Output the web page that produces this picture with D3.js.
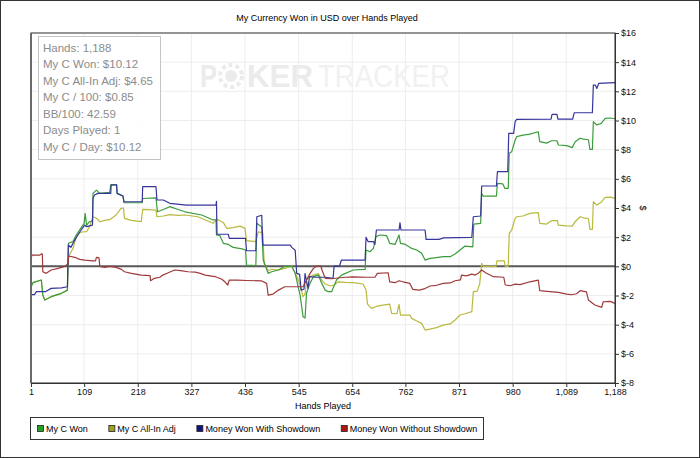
<!DOCTYPE html>
<html>
<head>
<meta charset="utf-8">
<title>My Currency Won in USD over Hands Played</title>
<script src="https://d3js.org/d3.v7.min.js"></script>
<style>
  body { margin: 0; background: #fff; }
  svg text { font-family: "Liberation Sans", Arial, sans-serif; }
</style>
</head>
<body>
<div id="chart"></div>
<script>
var handTicks = [1, 109, 218, 327, 436, 545, 654, 762, 871, 980, 1089, 1188];
var dollarTicks = [-8, -6, -4, -2, 0, 2, 4, 6, 8, 10, 12, 14, 16];
var seriesNames = ["My C Won", "My C All-In Adj", "Money Won With Showdown", "Money Won Without Showdown"];
var statLines = ["Hands: 1,188", "My C Won: $10.12", "My C All-In Adj: $4.65", "My C / 100: $0.85",
                 "BB/100: 42.59", "Days Played: 1", "My C / Day: $10.12"];

// [hand, dollars]
var myCWon = [[1,-1.40],[5,-1.12],[22,-0.94],[25,-1.97],[29,-2.31],[42,-2.08],[63,-1.85],[75,-1.63],
  [77,1.58],[86,1.69],[93,2.15],[102,2.6],[109,2.95],[111,3.63],[114,2.83],[120,3.06],[126,3.1],
  [127,5.0],[134,5.23],[141,5.0],[161,5.07],[163,5.58],[175,5.58],[176,5.0],[188,4.82],[190,4.36],
  [227,4.36],[228,4.65],[255,4.7],[258,3.74],[270,3.9],[283,4.09],[300,3.9],[314,3.74],[348,3.52],
  [371,3.18],[377,3.18],[378,2.15],[385,2.1],[392,1.58],[402,1.5],[412,1.3],[430,1.2],[437,1.12],
  [439,0.09],[458,0.05],[460,2.95],[470,2.7],[473,0.43],[483,-0.48],[490,-0.37],[504,-0.25],
  [517,0],[531,0],[538,-0.48],[544,-1.4],[548,-1.97],[554,-3.46],[558,-3.55],[561,-1.85],
  [568,-1.17],[575,-0.71],[585,-0.6],[592,-1.17],[599,-1.63],[605,-1.74],[612,-1.74],[622,-0.94],
  [632,-0.6],[656,-0.25],[680,-0.21],[682,1.12],[690,1.0],[697,1.23],[702,2.03],[710,2.15],
  [724,2.1],[730,1.58],[741,1.5],[749,2.15],[752,1.58],[762,1.5],[775,1.23],[785,1.12],[795,0.89],
  [802,0.43],[812,0.55],[825,0.6],[839,0.66],[853,0.66],[863,0.84],[873,1.12],[883,1.39],
  [899,1.34],[901,2.9],[915,2.95],[917,5.0],[920,4.82],[947,4.82],[949,5.69],[960,5.65],
  [964,5.35],[971,5.35],[973,7.75],[978,7.85],[985,8.66],[988,8.89],[1001,9.0],[1015,9.07],
  [1032,9.23],[1035,8.55],[1049,8.45],[1059,8.61],[1070,8.61],[1073,8.32],[1090,8.28],
  [1101,8.14],[1107,8.55],[1117,8.78],[1124,8.72],[1134,8.68],[1137,8.02],[1142,8.02],
  [1144,9.92],[1151,9.69],[1160,9.8],[1168,10.15],[1178,10.17],[1188,10.12]];

var allInAdj = [[1,-1.40],[5,-1.12],[22,-0.94],[25,-1.97],[29,-2.31],[42,-2.08],[63,-1.85],[75,-1.63],
  [77,0.69],[86,1.2],[93,2.0],[100,2.3],[107,2.37],[114,2.37],[120,2.72],[127,3.4],[134,3.3],
  [141,3.06],[151,3.15],[161,3.2],[174,3.52],[184,3.98],[189,4.0],[191,3.29],[205,3.15],
  [225,3.06],[228,3.9],[255,3.86],[257,3.4],[270,3.45],[283,3.55],[300,3.5],[314,3.52],
  [340,3.4],[371,2.95],[378,3.2],[382,3.18],[392,3.0],[399,2.6],[412,2.65],[426,2.76],
  [436,2.6],[439,1.76],[458,1.7],[463,2.37],[472,2.3],[475,0.2],[483,-0.3],[490,-0.2],
  [504,-0.25],[517,-0.14],[531,0.02],[538,-0.48],[544,-0.9],[548,-1.28],[554,-2.08],
  [558,-1.9],[561,-0.94],[568,-0.7],[575,-0.6],[585,-0.5],[592,-0.94],[599,-1.21],[610,-1.35],
  [617,-1.28],[626,-1.06],[640,-1.1],[656,-1.12],[676,-1.21],[682,-1.63],[685,-2.59],
  [693,-2.88],[703,-2.75],[710,-2.7],[730,-2.59],[734,-3.22],[745,-3.25],[749,-2.6],
  [752,-3.34],[771,-3.34],[775,-3.57],[785,-3.75],[795,-3.91],[802,-4.37],[812,-4.3],
  [825,-4.2],[839,-4.03],[853,-3.95],[863,-3.68],[873,-3.34],[883,-3.25],[897,-3.11],
  [900,-1.74],[908,-1.7],[913,-1.2],[917,0.2],[920,0],[946,0],[948,0.38],[963,0.38],[965,0],
  [971,0],[973,2.26],[978,2.49],[985,3.29],[988,3.4],[1001,3.45],[1015,3.63],[1032,3.68],
  [1035,2.95],[1049,2.9],[1059,3.13],[1071,3.13],[1073,2.83],[1090,2.78],[1101,2.76],
  [1107,3.06],[1117,3.4],[1127,3.3],[1134,3.28],[1137,2.54],[1142,2.54],[1144,4.43],
  [1151,4.2],[1160,4.4],[1168,4.73],[1178,4.75],[1188,4.66]];

var withShowdown = [[1,-1.94],[8,-1.94],[12,-1.74],[30,-1.74],[42,-1.51],[63,-1.48],[75,-1.4],
  [77,1.46],[82,1.3],[90,1.8],[96,2.15],[103,2.49],[110,2.83],[114,2.72],[126,2.83],
  [127,4.66],[130,4.89],[137,5.0],[163,5.0],[164,5.58],[175,5.58],[176,5.0],[188,4.82],
  [190,4.43],[227,4.43],[228,5.46],[255,5.46],[257,4.55],[270,4.55],[283,4.32],[317,4.2],
  [377,4.2],[378,4.45],[379,2.2],[402,2.2],[404,1.92],[437,1.92],[439,1.07],[458,1.07],
  [460,3.4],[470,3.5],[472,1.46],[528,1.46],[531,1.3],[538,1.1],[541,-0.48],[547,-0.55],
  [550,-1.63],[556,-1.55],[558,-0.5],[561,-1.0],[564,-1.51],[567,-0.71],[580,-0.75],
  [600,-0.75],[615,-0.82],[617,0.02],[628,0.02],[632,0.43],[680,0.43],[682,1.99],[686,1.7],
  [697,1.69],[700,1.5],[703,2.49],[749,2.49],[751,2.99],[753,2.49],[802,2.49],[804,1.85],
  [830,1.85],[840,1.95],[897,1.99],[900,3.4],[915,3.45],[917,5.51],[947,5.51],[949,6.49],
  [970,6.49],[972,9.12],[982,9.12],[985,9.92],[988,10.08],[1058,10.1],[1060,10.42],
  [1070,10.42],[1072,10.1],[1102,10.1],[1105,10.53],[1142,10.53],[1144,12.43],[1148,12.43],
  [1151,12.2],[1155,12.55],[1188,12.6]];

var withoutShowdown = [[1,0.55],[3,0.77],[19,0.77],[22,0.85],[24,0.85],[25,-0.37],[32,-0.48],
  [42,-0.25],[56,-0.14],[70,0],[76,0.16],[78,0.71],[90,0.62],[100,0.48],[110,0.43],[127,0.38],
  [132,0.38],[134,0.62],[139,0.6],[141,0],[151,-0.07],[161,0],[174,-0.07],[185,-0.21],
  [191,-0.37],[205,-0.48],[225,-0.6],[243,-0.64],[244,-0.99],[252,-0.82],[263,-0.75],
  [269,-0.6],[280,-0.44],[293,-0.25],[305,-0.3],[320,-0.37],[335,-0.4],[345,-0.48],[355,-0.6],
  [375,-0.7],[389,-0.89],[395,-1.06],[401,-1.28],[404,-0.94],[420,-0.94],[440,-0.97],
  [470,-1.0],[480,-1.17],[483,-1.97],[493,-1.9],[504,-1.63],[517,-1.4],[540,-1.4],[554,-1.4],
  [561,-0.94],[568,-0.5],[575,-0.14],[582,0.02],[590,0.02],[593,-0.3],[599,-0.82],[612,-0.85],
  [625,-0.8],[640,-0.75],[656,-0.72],[683,-0.75],[700,-0.75],[705,-0.48],[727,-0.44],
  [730,-1.06],[741,-1.12],[749,-0.99],[757,-1.06],[771,-1.17],[777,-1.58],[790,-1.63],
  [800,-1.55],[812,-1.35],[825,-1.3],[839,-1.17],[853,-1.14],[863,-0.99],[874,-0.93],
  [876,-0.6],[886,-0.65],[897,-0.53],[904,-0.6],[911,-0.45],[917,-0.25],[925,-0.44],
  [941,-0.71],[962,-0.75],[965,-1.28],[975,-1.33],[985,-1.22],[995,-1.25],[1015,-1.06],
  [1032,-0.94],[1035,-1.67],[1050,-1.72],[1073,-1.78],[1090,-1.9],[1100,-1.95],[1110,-1.88],
  [1117,-1.67],[1130,-1.75],[1134,-2.31],[1147,-2.65],[1161,-2.81],[1164,-2.43],[1178,-2.4],
  [1188,-2.54]];

var lineColors = ["#3c9c3c", "#b9b93e", "#35359c", "#9e3a3a"];
var swatchColors = ["#23a023", "#a0a024", "#12127e", "#b01515"];

var margin = { top: 33, right: 85, bottom: 75, left: 31 },
    W = 700, H = 458,
    width = W - margin.left - margin.right,
    height = H - margin.top - margin.bottom;

var svg = d3.select("#chart").append("svg")
    .attr("width", W)
    .attr("height", H);

// outer frame
svg.append("rect")
    .attr("x", 0.5).attr("y", 0.5)
    .attr("width", W - 1).attr("height", H - 1)
    .attr("fill", "#fff").attr("stroke", "#333");

svg.append("text")
    .attr("x", 327).attr("y", 21)
    .attr("text-anchor", "middle")
    .attr("font-size", "9px")
    .text("My Currency Won in USD over Hands Played");

var g = svg.append("g")
    .attr("transform", "translate(" + margin.left + "," + margin.top + ")");

var x = d3.scaleLinear().domain([1, 1188]).range([0, width]);
var y = d3.scaleLinear().domain([-8, 16]).range([height, 0]);

// grid
g.selectAll(".vgrid").data(handTicks).enter().append("line")
    .attr("x1", function(d) { return x(d); }).attr("x2", function(d) { return x(d); })
    .attr("y1", 0).attr("y2", height)
    .attr("stroke", "#ededed");
g.selectAll(".hgrid").data(dollarTicks).enter().append("line")
    .attr("x1", 0).attr("x2", width)
    .attr("y1", function(d) { return y(d); }).attr("y2", function(d) { return y(d); })
    .attr("stroke", "#ededed");

// watermark
var wm = g.append("g").attr("transform", "translate(169,54)");
wm.append("text").attr("x", 0).attr("y", 0)
    .attr("font-size", "31px").attr("font-weight", "bold").attr("fill", "#ebebeb")
    .attr("textLength", 17).attr("lengthAdjust", "spacingAndGlyphs").text("P");
wm.append("circle").attr("cx", 31).attr("cy", -11).attr("r", 11)
    .attr("fill", "none").attr("stroke", "#ebebeb").attr("stroke-width", 4)
    .attr("stroke-dasharray", "4,3");
wm.append("circle").attr("cx", 31).attr("cy", -11).attr("r", 6).attr("fill", "#ebebeb");
wm.append("text").attr("x", 47).attr("y", 0)
    .attr("font-size", "31px").attr("font-weight", "bold").attr("fill", "#ebebeb")
    .attr("textLength", 66).attr("lengthAdjust", "spacingAndGlyphs").text("KER");
wm.append("text").attr("x", 118).attr("y", 0)
    .attr("font-size", "31px").attr("fill", "#f1f1f1")
    .attr("textLength", 132).attr("lengthAdjust", "spacingAndGlyphs").text("TRACKER");

// stats box
var stats = g.append("g").attr("transform", "translate(7.5,3.5)");
stats.append("rect")
    .attr("width", 122).attr("height", 123)
    .attr("fill", "#fff").attr("fill-opacity", 0.85)
    .attr("stroke", "#c4c4c4");
stats.selectAll("text").data(statLines).enter().append("text")
    .attr("x", 4.5)
    .attr("y", function(d, i) { return 15 + i * 16.5; })
    .attr("font-size", "11.5px")
    .attr("fill", "#8c8c8c")
    .text(function(d) { return d; });

// zero line
g.append("line")
    .attr("x1", 0).attr("x2", width)
    .attr("y1", y(0)).attr("y2", y(0))
    .attr("stroke", "#585858").attr("stroke-width", 2);

// series
var line = d3.line()
    .x(function(d) { return x(d[0]); })
    .y(function(d) { return y(d[1]); });

var series = [allInAdj, myCWon, withShowdown, withoutShowdown];
var seriesColor = [lineColors[1], lineColors[0], lineColors[2], lineColors[3]];
g.selectAll(".series").data(series).enter().append("path")
    .attr("d", line)
    .attr("fill", "none")
    .attr("stroke", function(d, i) { return seriesColor[i]; })
    .attr("stroke-width", 1.2)
    .attr("stroke-linejoin", "round");

// frame
g.append("rect")
    .attr("width", width).attr("height", height)
    .attr("fill", "none").attr("stroke", "#333");
g.append("line")
    .attr("x1", 0).attr("x2", 0).attr("y1", 0).attr("y2", height)
    .attr("stroke", "#6a6a6a").attr("stroke-width", 2);

// axes
var xAxis = g.append("g")
    .attr("transform", "translate(0," + height + ")")
    .call(d3.axisBottom(x).tickValues(handTicks).tickSize(4).tickPadding(2)
      .tickFormat(d3.format(",")));
var yAxis = g.append("g")
    .attr("transform", "translate(" + width + ",0)")
    .call(d3.axisRight(y).tickValues(dollarTicks).tickSize(4).tickPadding(2)
      .tickFormat(function(d) { return "$" + d; }));
[xAxis, yAxis].forEach(function(a) {
  a.select(".domain").attr("stroke", "#333");
  a.selectAll(".tick line").attr("stroke", "#333");
  a.selectAll(".tick text").attr("font-size", "9px").attr("fill", "#111")
    .attr("font-family", "'Liberation Sans', Arial, sans-serif");
});

svg.append("text")
    .attr("x", 323).attr("y", 409)
    .attr("text-anchor", "middle")
    .attr("font-size", "9px")
    .text("Hands Played");

svg.append("text")
    .attr("transform", "translate(640,208) rotate(90)")
    .attr("text-anchor", "middle")
    .attr("font-size", "9px")
    .text("$");

// legend
var legend = svg.append("g");
legend.append("rect")
    .attr("x", 30.5).attr("y", 417.5)
    .attr("width", 453).attr("height", 22)
    .attr("fill", "#fff").attr("stroke", "#333");
var lx = 37.5;
seriesNames.forEach(function(name, i) {
  legend.append("rect")
    .attr("x", lx).attr("y", 425.5)
    .attr("width", 6).attr("height", 6)
    .attr("fill", swatchColors[i]).attr("stroke", "#222").attr("stroke-width", 0.8);
  var t = legend.append("text")
    .attr("x", lx + 8.5).attr("y", 432)
    .attr("font-size", "9px")
    .text(name);
  lx = lx + 8.5 + t.node().getComputedTextLength() + 21;
});
</script>
</body>
</html>
